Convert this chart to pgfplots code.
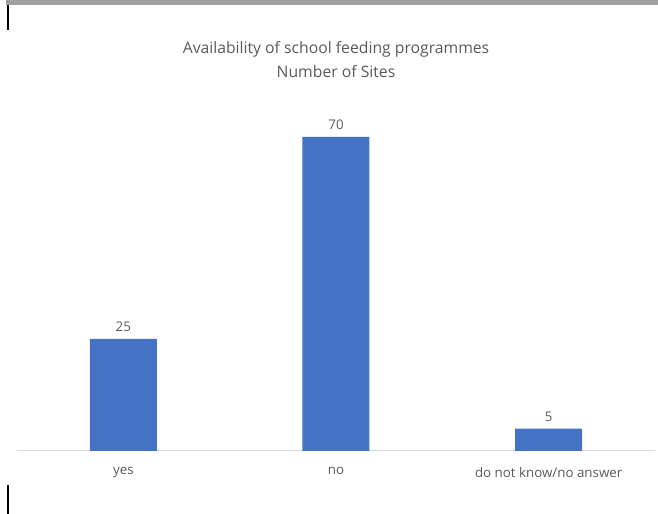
\documentclass[border=0pt]{standalone}
\usepackage{pgfplots}
\pgfplotsset{compat=1.18}
\usepackage{fontspec}
\setmainfont{Open Sans}
\definecolor{barblue}{HTML}{4472C4}
\definecolor{txt}{HTML}{595959}
\definecolor{axl}{HTML}{D9D9D9}
\definecolor{topbar}{HTML}{A0A0A0}
\begin{document}
\begin{tikzpicture}
\begin{scope}[x=0.75pt,y=-0.75pt,shift={(0,-514)}]
\useasboundingbox (0,0) rectangle (658,514);
\fill[topbar] (6,0) rectangle (658,5);
\draw[black, line width=0.8pt] (8,5) -- (8,30);
\draw[black, line width=0.8pt] (8,485) -- (8,514);
\node[txt, font=\fontsize{11.8}{18}\selectfont, align=center] at (336,60) {Availability of school feeding programmes\\Number of Sites};
\end{scope}
\begin{axis}[
  at={(12.75pt,47.25pt)}, anchor=south west,
  scale only axis, width=478.5pt, height=269.25pt,
  xmin=-0.5, xmax=2.5, ymin=0, ymax=80,
  axis y line=none, axis x line*=bottom,
  x axis line style={axl, -, line width=0.75pt},
  xtick=data, xticklabels={yes,no,do not know/no answer},
  major tick length=0pt,
  xticklabel style={txt, font=\fontsize{10}{12}\selectfont, yshift=-8.5pt},
  ybar, bar width=50.25pt,
  /pgf/number format/assume math mode=true,
  nodes near coords,
  nodes near coords style={txt, font=\fontsize{10}{12}\selectfont, yshift=2pt},
  clip=false,
]
\addplot[fill=barblue, draw=none] coordinates {(0,25) (1,70) (2,5)};
\end{axis}
\end{tikzpicture}
\end{document}
